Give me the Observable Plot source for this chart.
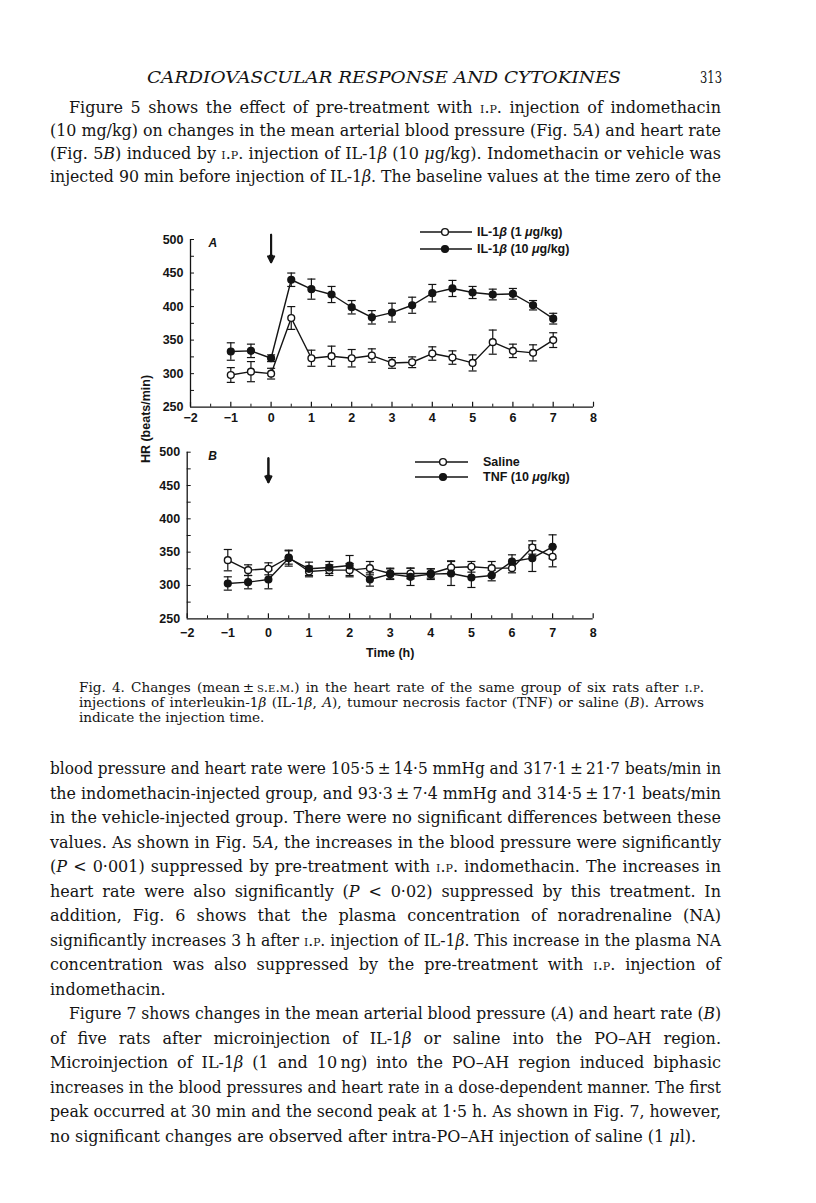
<!DOCTYPE html>
<html><head><meta charset="utf-8">
<script src="https://cdn.jsdelivr.net/npm/d3@7"></script>
<script src="https://cdn.jsdelivr.net/npm/@observablehq/plot@0.6"></script>
<style>
html,body{margin:0;padding:0;background:#fff;}
#page{position:relative;width:816px;height:1203px;overflow:hidden;background:#fff;color:#141414;}
.ln{position:absolute;white-space:nowrap;font-family:"DejaVu Serif",serif;}
.ln span.t{display:inline-block;transform-origin:0 50%;}
.sc{font-variant:small-caps;}
.panel{position:absolute;left:0;}
.legt{position:absolute;white-space:nowrap;font-family:"Liberation Sans",Arial,sans-serif;font-weight:bold;font-size:12.5px;color:#141414;line-height:14px;}
.legs{position:absolute;overflow:visible;}
.ytitle{position:absolute;white-space:nowrap;font-family:"Liberation Sans",Arial,sans-serif;font-weight:bold;font-size:12.5px;color:#141414;transform:translate(-50%,-50%) rotate(-90deg);}
</style></head><body><div id="page"></div>
<script>
// ---------- data ----------
const times = [-1,-0.5,0,0.5,1,1.5,2,2.5,3,3.5,4,4.5,5,5.5,6,6.5,7];
// Panel A
const il1Low     = [298,303,300,383,323,326,323,327,316,317,330,324,316,347,334,331,350];
const il1LowErr  = [11,15,8,17,12,15,13,10,8,8,10,10,12,18,10,12,11];
const il1High    = [333,334,323,440,426,418,399,384,391,402,420,427,421,418,419,402,382];
const il1HighErr = [13,10,5,10,15,12,10,10,14,12,13,12,9,8,8,7,8];
// Panel B
const saline     = [338,323,325,342,321,323,323,326,318,318,318,327,328,326,326,357,343];
const salineErr  = [16,8,9,10,8,8,10,10,8,8,7,10,8,10,7,10,15];
const tnf        = [303,305,309,341,325,327,330,309,317,313,317,318,312,315,336,341,358];
const tnfErr     = [10,10,14,12,10,9,15,10,8,13,8,18,15,8,10,20,18];

const legendA = ["IL-1β (1 μg/kg)", "IL-1β (10 μg/kg)"];
const legendB = ["Saline", "TNF (10 μg/kg)"];
const panelLetters = ["A", "B"];
const xTicks = [-2,-1,0,1,2,3,4,5,6,7,8];
const xHalfTicks = [-1.5,-0.5,0.5,1.5,2.5,3.5,4.5,5.5,6.5,7.5];
const yTicks = [250,300,350,400,450,500];
const yMarks = [275,300,325,350,375,400,425,450,475,500];
const injectionTime = 0;
const arrowA = [507, 466];
const arrowB = [491, 455];
const xTitle = "Time (h)";
const yTitle = "HR (beats/min)";

const headerText = "CARDIOVASCULAR RESPONSE AND CYTOKINES";
const pageNumber = "313";
const topLines = [
 'Figure 5 shows the effect of pre-treatment with <span class="sc">i.p.</span> injection of indomethacin',
 '(10 mg/kg) on changes in the mean arterial blood pressure (Fig. 5<i>A</i>) and heart rate',
 '(Fig. 5<i>B</i>) induced by <span class="sc">i.p.</span> injection of IL-1<i>β</i> (10 <i>μ</i>g/kg). Indomethacin or vehicle was',
 'injected 90 min before injection of IL-1<i>β</i>. The baseline values at the time zero of the'
];
const captionLines = [
 'Fig. 4. Changes (mean\u2009±\u2009<span class="sc">s.e.m.</span>) in the heart rate of the same group of six rats after <span class="sc">i.p.</span>',
 'injections of interleukin-1<i>β</i> (IL-1<i>β</i>, <i>A</i>), tumour necrosis factor (TNF) or saline (<i>B</i>). Arrows',
 'indicate the injection time.'
];
const bodyLines = [
 'blood pressure and heart rate were 105·5\u2009±\u200914·5 mmHg and 317·1\u2009±\u200921·7 beats/min in',
 'the indomethacin-injected group, and 93·3\u2009±\u20097·4 mmHg and 314·5\u2009±\u200917·1 beats/min',
 'in the vehicle-injected group. There were no significant differences between these',
 'values. As shown in Fig. 5<i>A</i>, the increases in the blood pressure were significantly',
 '(<i>P</i> &lt; 0·001) suppressed by pre-treatment with <span class="sc">i.p.</span> indomethacin. The increases in',
 'heart rate were also significantly (<i>P</i> &lt; 0·02) suppressed by this treatment. In',
 'addition, Fig. 6 shows that the plasma concentration of noradrenaline (NA)',
 'significantly increases 3 h after <span class="sc">i.p.</span> injection of IL-1<i>β</i>. This increase in the plasma NA',
 'concentration was also suppressed by the pre-treatment with <span class="sc">i.p.</span> injection of',
 'indomethacin.',
 'Figure 7 shows changes in the mean arterial blood pressure (<i>A</i>) and heart rate (<i>B</i>)',
 'of five rats after microinjection of IL-1<i>β</i> or saline into the PO–AH region.',
 'Microinjection of IL-1<i>β</i> (1 and 10\u2009ng) into the PO–AH region induced biphasic',
 'increases in the blood pressures and heart rate in a dose-dependent manner. The first',
 'peak occurred at 30 min and the second peak at 1·5 h. As shown in Fig. 7, however,',
 'no significant changes are observed after intra-PO–AH injection of saline (1 <i>μ</i>l).'
];

// ---------- helpers ----------
const page = document.getElementById("page");
const ASC = 0.928, DESC = 0.236;
const pending = [];
function addLine(html, {left, right, baseline, size, justify, italic, stretch}) {
  const d = document.createElement("div");
  d.className = "ln";
  const lh = size * 1.25;
  d.style.fontSize = size + "px";
  d.style.lineHeight = lh + "px";
  d.style.left = left + "px";
  d.style.width = (right - left) + "px";
  d.style.top = (baseline - ((lh - (ASC + DESC) * size) / 2 + ASC * size)) + "px";
  if (italic) d.style.fontStyle = "italic";
  const s = document.createElement("span");
  s.className = "t";
  s.innerHTML = html;
  d.appendChild(s);
  page.appendChild(d);
  pending.push({s, width: right - left, justify, stretch});
}
function fitAll() {
  for (const {s, width, justify, stretch} of pending) {
    const w = s.getBoundingClientRect().width;
    const n = (s.textContent.match(/ /g) || []).length;
    if (stretch) s.style.transform = `scaleX(${width / w})`;
    else if (justify && w < width && n) s.style.wordSpacing = ((width - w) / n) + "px";
    else if (w > width) s.style.transform = `scaleX(${width / w})`;
  }
}

// ---------- text ----------
addLine(headerText, {left: 147, right: 621, baseline: 84, size: 16, italic: true, stretch: true});
addLine(pageNumber, {left: 700, right: 722, baseline: 84, size: 16, stretch: true});
topLines.forEach((t, i) => addLine(t, {left: i === 0 ? 69 : 50, right: 721, baseline: 114 + i * 22.8, size: 16, justify: true}));
captionLines.forEach((t, i) => addLine(t, {left: 79, right: 704, baseline: 692 + i * 15.3, size: 13.6, justify: i < 2}));
bodyLines.forEach((t, i) => addLine(t, {left: (i === 10) ? 69 : 50, right: 721, baseline: 775 + i * 24.5, size: 16, justify: !(i === 9 || i === 15)}));

// ---------- chart ----------
const fmt = d => d < 0 ? "\u2212" + Math.abs(d) : String(d);
function rowsFor(vals, errs, filled) {
  return times.map((t, i) => ({t, v: vals[i], e: errs[i], filled}));
}
function panel({series, letter, arrow, top, height, mt, mb, ml, mr, pad, xlabel}) {
  const width = 640;
  const plotW = width - ml - mr, plotH = height - mt - mb;
  const rows = series.flatMap((s, k) => s.map(r => ({...r, k})));
  const ink = "#141414";
  const marks = [
    Plot.ruleY([250], {stroke: ink, strokeWidth: 1.3}),
    Plot.ruleX([-2], {stroke: ink, strokeWidth: 1.3}),
    Plot.tickX(xTicks, {x: d => d, insetTop: plotH - 5, stroke: ink, strokeWidth: 1.2}),
    Plot.tickX(xHalfTicks, {x: d => d, insetTop: plotH - 3, stroke: ink, strokeWidth: 1}),
    Plot.tickY(yMarks, {y: d => d, insetRight: plotW - 4, stroke: ink, strokeWidth: 1}),
    Plot.axisX(xTicks, {tickSize: 0, tickPadding: pad, tickFormat: fmt, label: null}),
    Plot.axisY(yTicks, {tickSize: 0, tickPadding: 7, tickFormat: d => String(d), label: null}),
    Plot.line(rows, {x: "t", y: "v", z: "k", stroke: ink, strokeWidth: 1.4}),
    Plot.ruleX(rows, {x: "t", y1: d => d.v - d.e, y2: d => d.v + d.e, stroke: ink, strokeWidth: 1.2}),
    Plot.link(rows, {x1: d => d.t - 0.1, x2: d => d.t + 0.1, y1: d => d.v + d.e, y2: d => d.v + d.e, stroke: ink, strokeWidth: 1.2}),
    Plot.link(rows, {x1: d => d.t - 0.1, x2: d => d.t + 0.1, y1: d => d.v - d.e, y2: d => d.v - d.e, stroke: ink, strokeWidth: 1.2}),
    Plot.dot(rows, {x: "t", y: "v", r: 3.4, fill: d => d.filled ? ink : "#fff", stroke: ink, strokeWidth: 1.4}),
    Plot.arrow([arrow], {x1: injectionTime, x2: injectionTime, y1: d => d[0], y2: d => d[1], stroke: ink, strokeWidth: 2, headLength: 5, headAngle: 55}),
    Plot.arrow([arrow], {x1: injectionTime, x2: injectionTime, y1: d => d[0], y2: d => d[1], stroke: ink, strokeWidth: 2, headLength: 5, headAngle: 25}),
    Plot.text([letter], {frameAnchor: "top-left", text: d => d, dx: letter === "A" ? 18 : 21, dy: -1, lineAnchor: "top", textAnchor: "start", fontStyle: "italic", fontSize: 12})
  ];
  if (xlabel) marks.push(Plot.text([xlabel], {frameAnchor: "bottom", text: d => d, dy: 34, lineAnchor: "middle", fontSize: 12.5}));
  const svg = Plot.plot({
    width, height, marginTop: mt, marginBottom: mb, marginLeft: ml, marginRight: mr,
    x: {domain: [-2, 8]}, y: {domain: [250, 500]},
    style: {fontFamily: "'Liberation Sans', Arial, sans-serif", fontSize: "12.5px", fontWeight: "bold", color: ink, background: "transparent", overflow: "visible"},
    marks
  });
  svg.classList.add("panel");
  svg.style.top = top + "px";
  page.appendChild(svg);
}
panel({series: [rowsFor(il1Low, il1LowErr, false), rowsFor(il1High, il1HighErr, true)], letter: panelLetters[0], arrow: arrowA,
  top: 200, height: 237, mt: 39, mb: 30.3, ml: 190, mr: 47, pad: 5.5});
panel({series: [rowsFor(saline, salineErr, false), rowsFor(tnf, tnfErr, true)], letter: panelLetters[1], arrow: arrowB,
  top: 420, height: 243.3, mt: 31.7, mb: 45, ml: 186.7, mr: 47.3, pad: 9, xlabel: xTitle});

// legends (HTML)
function legend(labels, {x1, x2, cx, tx, ys}) {
  labels.forEach((lab, i) => {
    const y = ys[i];
    const sv = document.createElementNS("http://www.w3.org/2000/svg", "svg");
    sv.setAttribute("class", "legs");
    sv.setAttribute("width", x2 - x1 + 10); sv.setAttribute("height", 12);
    sv.style.left = (x1 - 5) + "px"; sv.style.top = (y - 6) + "px";
    sv.innerHTML = `<line x1="5" x2="${x2 - x1 + 5}" y1="6" y2="6" stroke="#141414" stroke-width="1.4"/>` +
      `<circle cx="${cx - x1 + 5}" cy="6" r="3.4" fill="${i === 1 ? "#141414" : "#fff"}" stroke="#141414" stroke-width="1.4"/>`;
    page.appendChild(sv);
    const t = document.createElement("div");
    t.className = "legt";
    t.style.left = tx + "px"; t.style.top = (y - 7) + "px";
    t.innerHTML = lab.replace("β", "<i>β</i>").replace("μ", "<i>μ</i>");
    page.appendChild(t);
  });
}
legend(legendA, {x1: 420, x2: 472, cx: 445, tx: 477, ys: [232, 249]});
legend(legendB, {x1: 415, x2: 468, cx: 443, tx: 483, ys: [462, 477]});

const yt = document.createElement("div");
yt.className = "ytitle"; yt.textContent = yTitle;
yt.style.left = "146px"; yt.style.top = "419px";
page.appendChild(yt);

(document.fonts ? document.fonts.ready : Promise.resolve()).then(fitAll);
</script></body></html>
